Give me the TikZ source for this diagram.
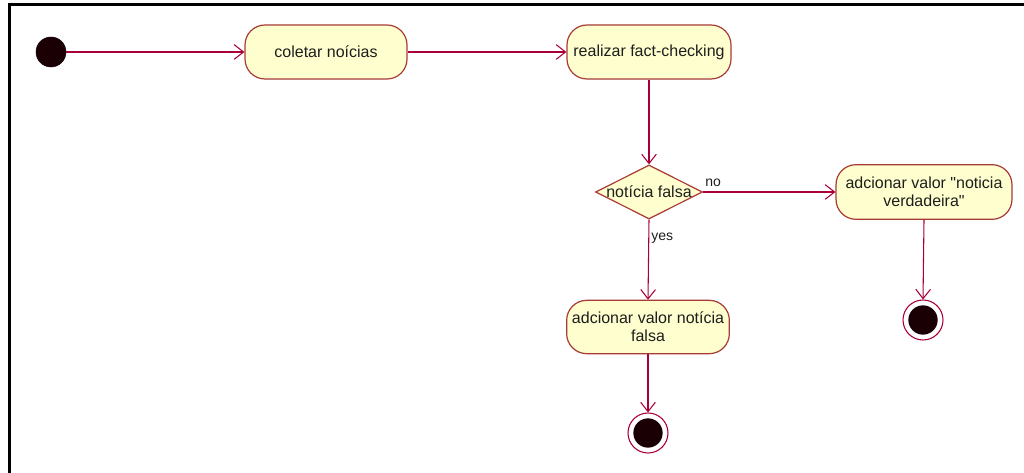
\documentclass[tikz,border=0pt]{standalone}
\usepackage{fontspec}
\setmainfont{Liberation Sans}[Ligatures=TeXOff]
\usetikzlibrary{shapes.geometric,arrows.meta}
\definecolor{umlfill}{HTML}{FEFECE}
\definecolor{umlline}{HTML}{A80036}
\definecolor{umlborder}{HTML}{A83A36}
\definecolor{umltext}{HTML}{1E1E1E}
\definecolor{umldark}{HTML}{1A0005}
\tikzset{
  actbox/.style={draw=umlborder, fill=umlfill, line width=0.9pt, rounded corners=15pt,
    text=umltext, font=\fontsize{12}{13.5}\selectfont, align=center, inner sep=0pt},
  decbox/.style={draw=umlborder, fill=umlfill, line width=0.9pt, shape=diamond, aspect=2,
    inner sep=0pt, minimum width=80.25pt, minimum height=40.5pt},
  initdot/.style={circle, fill=umldark, draw=umldark, minimum size=22.5pt, inner sep=0pt},
  finring/.style={circle, draw=umlline, fill=white, line width=0.8pt, minimum size=30pt, inner sep=0pt},
  findot/.style={circle, fill=umldark, minimum size=22pt, inner sep=0pt},
  flow/.style={draw=umlline, line width=0.8pt, -{Straight Barb[length=7pt,width=11pt,line width=0.8pt]}},
  lbl/.style={text=umltext, font=\fontsize{10.5}{12}\selectfont, inner sep=0pt}
}
\begin{document}
\begin{tikzpicture}[x=0.75pt, y=-0.75pt]
\useasboundingbox (0,0) rectangle (1024,473);
% frame (top and left only)
\draw[line width=2.2pt, black] (9.5,473) -- (9.5,4.5) -- (1024,4.5);

\node[initdot] (start) at (51,52) {};
\node[actbox, minimum width=121.5pt, minimum height=40.5pt] (collect) at (326,52) {coletar noícias};
\node[actbox, minimum width=123pt, minimum height=40.5pt] (check) at (649,52) {realizar fact-checking};
\node[decbox] (dec) at (649,192) {};
\node[text=umltext, font=\fontsize{12}{13.5}\selectfont, inner sep=0pt] (dectext) at (dec.center) {notícia falsa};
\node[actbox, minimum width=132pt, minimum height=41pt] (truebox) at (924,192) {adcionar valor "noticia\\verdadeira"};
\node[actbox, minimum width=122pt, minimum height=40pt] (falsebox) at (648,327) {adcionar valor notícia\\falsa};
\node[finring] (endfalse) at (648,433) {};
\node[findot] (endfalsedot) at (endfalse.center) {};
\node[finring] (endtrue) at (923,320) {};
\node[findot] (endtruedot) at (endtrue.center) {};

\draw[flow] (start) -- (collect.west);
\draw[flow] (collect.east) -- (check.west);
\draw[flow] (check.south) -- (dec.north);
\draw[flow] (dec.east) -- (truebox.west);
\draw[flow] (dec.south) -- (falsebox.north);
\draw[flow] (falsebox.south) -- (endfalse.north);
\draw[flow] (truebox.south) -- (endtrue.north);

\node[lbl, anchor=west] (nolbl) at (705,183) {no};
\node[lbl, anchor=west] (yeslbl) at (651,238) {yes};
\end{tikzpicture}
\end{document}
